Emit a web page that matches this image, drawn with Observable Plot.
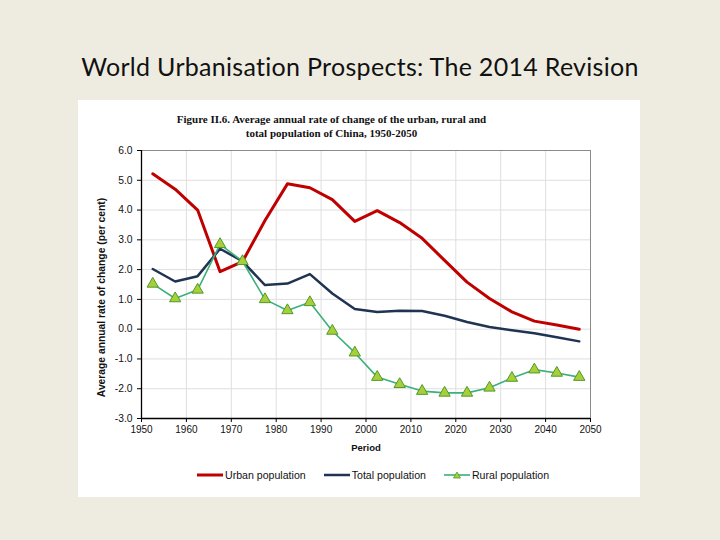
<!DOCTYPE html>
<html><head><meta charset="utf-8">
<script src="https://cdn.jsdelivr.net/npm/d3@7"></script>
<script src="https://cdn.jsdelivr.net/npm/@observablehq/plot@0.6"></script>
<style>
html,body{margin:0;padding:0}
body{background:#eeece1;width:720px;height:540px;overflow:hidden;position:relative;font-family:"Liberation Sans",Arial,sans-serif}
#title{position:absolute;left:0;width:720px;top:51px;text-align:center;font-family:Lato,"Open Sans",sans-serif;font-size:25px;letter-spacing:0.3px;line-height:30px;color:#111}
#panel{position:absolute;left:78px;top:100px;width:562px;height:397px;background:#fff}
#ftitle{position:absolute;left:0;width:507px;top:13px;text-align:center;font-family:"Liberation Serif",serif;font-weight:bold;font-size:11px;line-height:13.5px;color:#111}
#chart{position:absolute;left:0;top:40px}
#legend{position:absolute;top:369px;left:119px;display:flex;gap:18px;align-items:center;font-size:10.6px;color:#111}
.item{display:flex;align-items:center;gap:2px}
</style></head>
<body>
<div id="title">World Urbanisation Prospects: The 2014 Revision</div>
<div id="panel">
  <div id="ftitle">Figure II.6. Average annual rate of change of the urban, rural and<br>total population of China, 1950-2050</div>
  <div id="chart"></div>
  <div id="legend"></div>
</div>
<script>
const periods = [1952.5,1957.5,1962.5,1967.5,1972.5,1977.5,1982.5,1987.5,1992.5,1997.5,2002.5,2007.5,2012.5,2017.5,2022.5,2027.5,2032.5,2037.5,2042.5,2047.5];
const urban = [5.22,4.70,4.00,1.93,2.27,3.65,4.88,4.75,4.35,3.62,3.98,3.58,3.05,2.31,1.58,1.03,0.58,0.27,0.14,0.00];
const total = [2.02,1.60,1.78,2.70,2.28,1.48,1.53,1.85,1.20,0.68,0.58,0.62,0.61,0.45,0.24,0.07,-0.04,-0.14,-0.27,-0.41];
const rural = [1.52,1.03,1.32,2.85,2.28,1.00,0.63,0.90,-0.06,-0.79,-1.61,-1.85,-2.08,-2.14,-2.14,-1.97,-1.64,-1.36,-1.47,-1.61];
const seriesNames = ["Urban population","Total population","Rural population"];
const seriesColors = ["#c00000","#1f3352","#3bb07a"];
const xTicks = [1950,1960,1970,1980,1990,2000,2010,2020,2030,2040,2050];
const yTicks = [-3,-2,-1,0,1,2,3,4,5,6];
const titleX = "Period";
const titleY = "Average annual rate of change (per cent)";

const rows = (vals, name) => periods.map((p, i) => ({period: p, value: vals[i], series: name}));
const urbanRows = rows(urban, seriesNames[0]);
const totalRows = rows(total, seriesNames[1]);
const ruralRows = rows(rural, seriesNames[2]);

const chart = Plot.plot({
  width: 540, height: 320,
  marginLeft: 63, marginTop: 10, marginRight: 28, marginBottom: 42,
  style: {fontFamily: "'Liberation Sans', Arial, sans-serif", fontSize: "10px", color: "#111", background: "transparent", overflow: "visible"},
  x: {domain: [1950, 2050]},
  y: {domain: [-3, 6]},
  marks: [
    Plot.gridX(xTicks, {stroke: "#dedede", strokeOpacity: 1}),
    Plot.gridY(yTicks, {stroke: "#dedede", strokeOpacity: 1}),
    Plot.frame({stroke: "#8a8a8a"}),
    Plot.ruleX([1950], {stroke: "#000", strokeWidth: 1.3}),
    Plot.ruleY([-3], {stroke: "#000", strokeWidth: 1.3}),
    Plot.axisX(xTicks, {tickSize: 4, tickPadding: 3, tickFormat: d => String(d), label: null, stroke: "#000"}),
    Plot.axisY(yTicks, {tickSize: 4, tickPadding: 5, tickFormat: d => d.toFixed(1), label: null, stroke: "#000", fontSize: 10.3}),
    Plot.text([titleX], {text: d => d, frameAnchor: "bottom", lineAnchor: "middle", textAnchor: "middle", dy: 29, fontWeight: "bold", fontSize: 9.5}),
    Plot.text([titleY], {text: d => d, frameAnchor: "left", lineAnchor: "middle", textAnchor: "middle", dx: -40, dy: 13, rotate: -90, fontWeight: "bold", fontSize: 10.3}),
    Plot.line(urbanRows, {x: "period", y: "value", stroke: seriesColors[0], strokeWidth: 3}),
    Plot.line(totalRows, {x: "period", y: "value", stroke: seriesColors[1], strokeWidth: 2.5}),
    Plot.line(ruralRows, {x: "period", y: "value", stroke: seriesColors[2], strokeWidth: 1.6}),
    Plot.dot(ruralRows, {x: "period", y: "value", symbol: "triangle", r: 4.2, fill: "#a8cf3a", stroke: "#4f9a2a", strokeWidth: 1})
  ]
});
document.getElementById("chart").appendChild(chart);

const legend = document.getElementById("legend");
const widths = [3, 2.5, 1.6];
seriesNames.forEach((name, i) => {
  const item = document.createElement("div");
  item.className = "item";
  const marker = i === 2 ? `<path d="M13,2 L16.5,8 L9.5,8 Z" fill="#a8cf3a" stroke="#4f9a2a" stroke-width="0.8"/>` : "";
  item.innerHTML = `<svg width="26" height="10"><line x1="0" x2="26" y1="5" y2="5" stroke="${seriesColors[i]}" stroke-width="${widths[i]}"/>${marker}</svg><span>${name}</span>`;
  legend.appendChild(item);
});
</script>
</body></html>
